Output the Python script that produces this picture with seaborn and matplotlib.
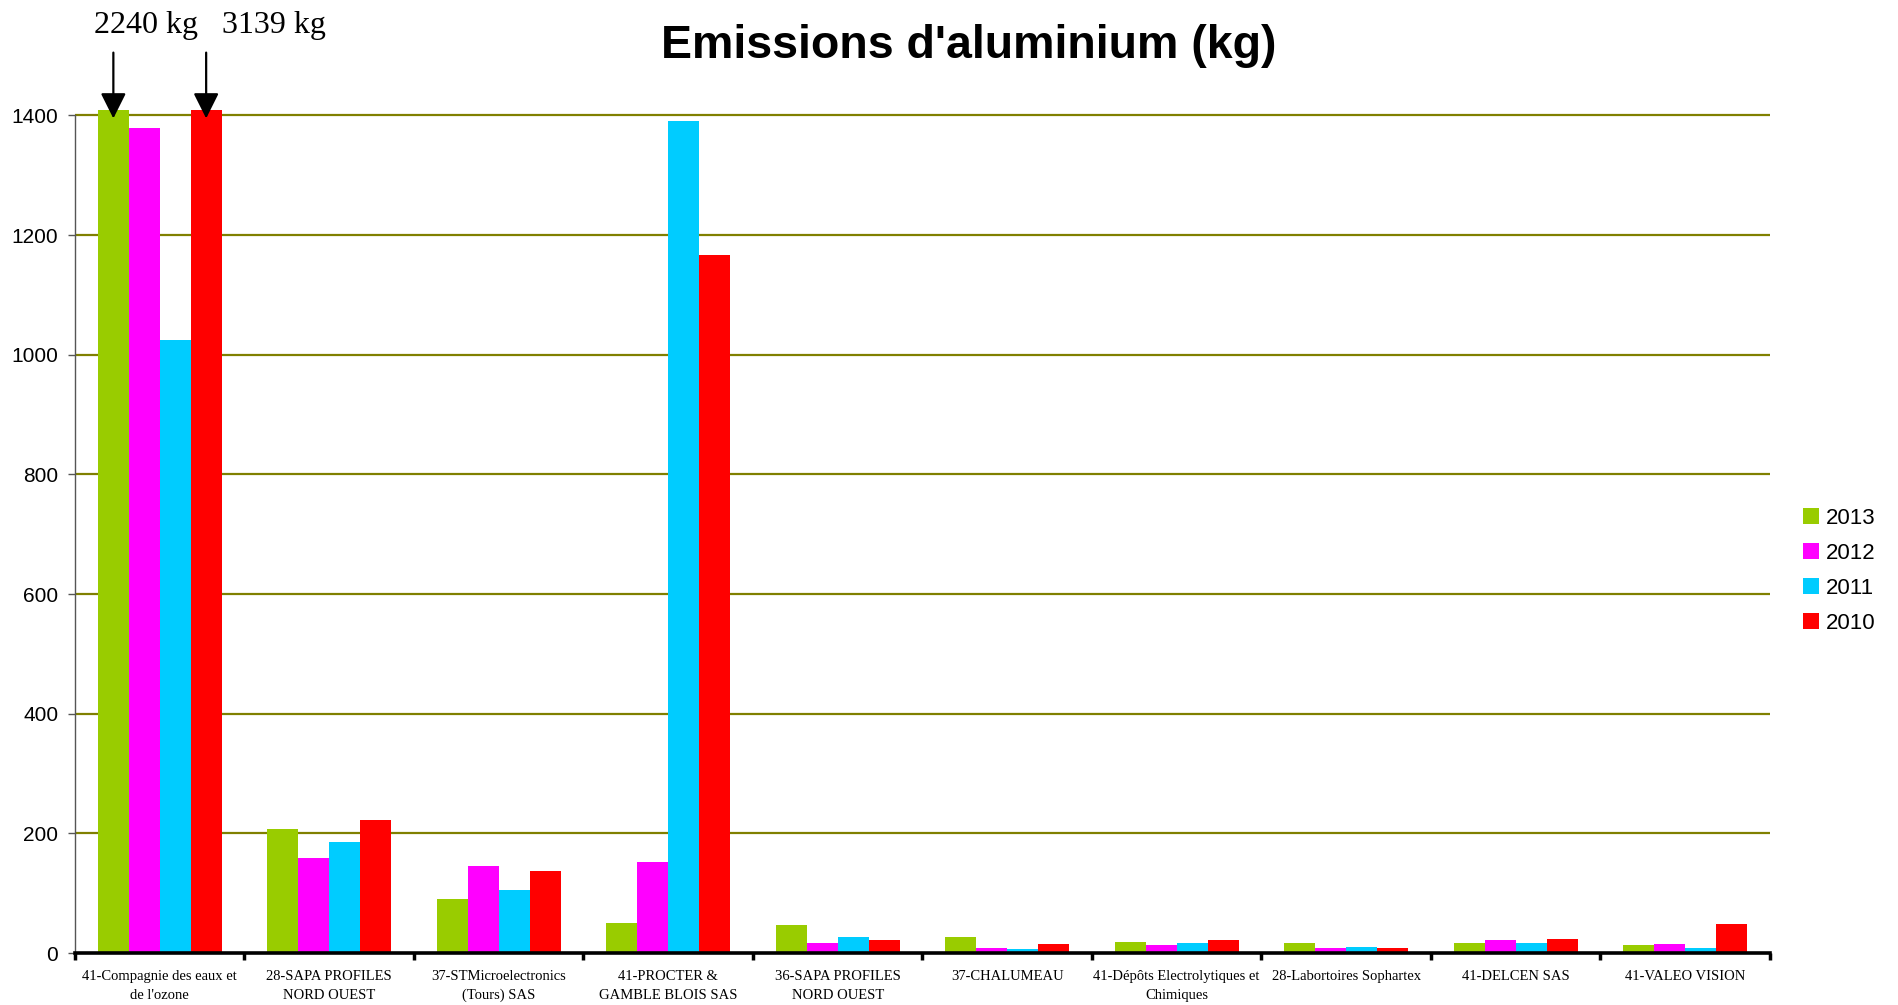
import matplotlib
matplotlib.use("Agg")
import matplotlib.pyplot as plt
import seaborn as sns
import pandas as pd

companies = [
    "41-Compagnie des eaux et\nde l'ozone",
    "28-SAPA PROFILES\nNORD OUEST",
    "37-STMicroelectronics\n(Tours) SAS",
    "41-PROCTER &\nGAMBLE BLOIS SAS",
    "36-SAPA PROFILES\nNORD OUEST",
    "37-CHALUMEAU",
    "41-Dépôts Electrolytiques et\nChimiques",
    "28-Labortoires Sophartex",
    "41-DELCEN SAS",
    "41-VALEO VISION",
]
years = ["2013", "2012", "2011", "2010"]
v2013 = [2240, 207, 90, 50, 47, 26, 19, 17, 16, 13]
v2012 = [1379, 159, 145, 152, 16, 9, 13, 8, 22, 15]
v2011 = [1025, 185, 106, 1390, 27, 6, 17, 10, 17, 8]
v2010 = [3139, 223, 137, 1166, 21, 15, 22, 8, 23, 48]
colors = ["#99CC00", "#FF00FF", "#00CCFF", "#FF0000"]
title = "Emissions d'aluminium (kg)"
annot_labels = ["2240 kg", "3139 kg"]
yticks = [0, 200, 400, 600, 800, 1000, 1200, 1400]

rows = []
for yr, vals in zip(years, [v2013, v2012, v2011, v2010]):
    for c, v in zip(companies, vals):
        rows.append({"company": c, "year": yr, "value": v})
df = pd.DataFrame(rows)

sns.set_theme(style="white")
plt.rcParams["font.family"] = ["Liberation Sans", "DejaVu Sans"]
plt.rcParams["text.color"] = "black"
plt.rcParams["xtick.color"] = "black"
plt.rcParams["ytick.color"] = "black"
plt.rcParams["xtick.labelcolor"] = "black"
plt.rcParams["ytick.labelcolor"] = "black"

fig = plt.figure(figsize=(18.99, 10.05), dpi=100)
ax = fig.add_axes([0.0395, 0.0517, 0.8925, 0.8388])

sns.barplot(data=df, x="company", y="value", hue="year", order=companies,
            hue_order=years, palette=colors, width=0.73, saturation=1,
            linewidth=0, ax=ax, zorder=2)

ymax = 1409
ax.set_ylim(0, ymax)
ax.set_xlim(-0.5, len(companies) - 0.5)
ax.set_yticks(yticks)
ax.set_yticklabels([str(t) for t in yticks], fontsize=15, color="black")
ax.set_xlabel("")
ax.set_ylabel("")
ax.set_axisbelow(True)
for t in yticks[1:]:
    ax.axhline(t, color="#808000", lw=1.6, zorder=0)

for s in ["top", "right"]:
    ax.spines[s].set_visible(False)
ax.spines["left"].set_bounds(0, 1400)
ax.spines["left"].set_color("#555555")
ax.spines["left"].set_linewidth(1.0)
ax.spines["bottom"].set_color("black")
ax.spines["bottom"].set_linewidth(2.6)
ax.spines["bottom"].set_zorder(5)

ax.tick_params(axis="y", which="major", direction="out", length=5, width=1,
               color="#555555", pad=7, left=True)
ax.set_xticks(range(len(companies)))
ax.set_xticklabels(companies, fontsize=10.5, family=["Liberation Serif"],
                   linespacing=1.6, va="top", color="black")
ax.tick_params(axis="x", which="major", length=0, pad=12)
ax.set_xticks([i - 0.5 for i in range(len(companies) + 1)], minor=True)
ax.tick_params(axis="x", which="minor", direction="out", length=5, width=2.5,
               color="black", bottom=True)

# legend
handles, labels = ax.get_legend_handles_labels()
ax.get_legend().remove()
fig.legend(handles, labels, loc="center left", bbox_to_anchor=(0.945, 0.432),
           frameon=False, fontsize=16, handlelength=0.72, handleheight=0.72,
           handletextpad=0.3, labelspacing=0.64, borderaxespad=0)

fig.text(0.51, 0.954, title, ha="center", va="center", fontsize=33.5,
         fontweight="bold", color="black")

# annotations for clipped bars (first group, 2013 and 2010)
n = len(companies)
bars = ax.patches[:4 * n]
targets = [bars[0], bars[3 * n]]
text_x_off = [0.19, 0.40]
for p, lab, dx in zip(targets, annot_labels, text_x_off):
    xc = p.get_x() + p.get_width() / 2
    ax.annotate("", xy=(xc, ymax - 14), xytext=(xc, 1505),
                arrowprops=dict(arrowstyle="-|>,head_length=1.3,head_width=0.65",
                                color="black", lw=1.6, shrinkA=0, shrinkB=0),
                annotation_clip=False, zorder=6)
    ax.text(xc + dx, 1538, lab, ha="center", va="baseline", fontsize=23,
            family=["Liberation Serif"], clip_on=False, color="black")

fig.savefig("out.png", dpi=100, facecolor="white")
